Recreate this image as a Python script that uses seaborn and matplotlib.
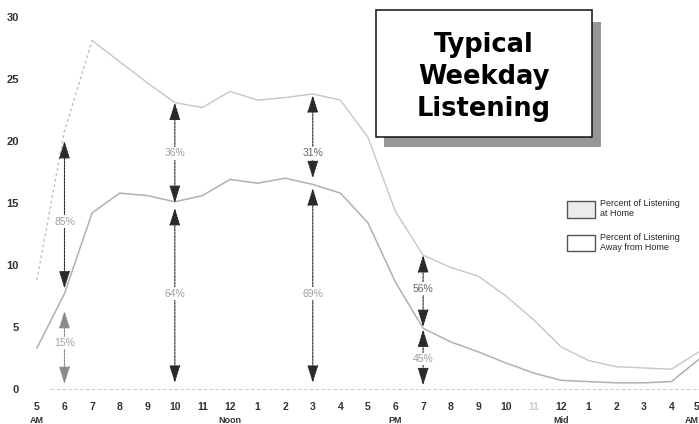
import seaborn as sns
import matplotlib.pyplot as plt
import pandas as pd
from matplotlib.patches import Rectangle, Patch

# Hour of day, 5 AM to 5 AM
hour_labels = ['5', '6', '7', '8', '9', '10', '11', '12', '1', '2', '3', '4',
               '5', '6', '7', '8', '9', '10', '11', '12', '1', '2', '3', '4', '5']
sub_labels = {0: 'AM', 7: 'Noon', 13: 'PM', 19: 'Mid', 24: 'AM'}

# Listening levels
upper_values = [8.8, 20.8, 28.1, 26.4, 24.7, 23.1, 22.7, 24.0, 23.3, 23.5, 23.8, 23.3,
                20.3, 14.3, 10.8, 9.8, 9.1, 7.5, 5.6, 3.4, 2.3, 1.8, 1.7, 1.6, 3.0]
lower_values = [3.3, 7.7, 14.2, 15.8, 15.6, 15.1, 15.6, 16.9, 16.6, 17.0, 16.5, 15.8,
                13.4, 8.6, 4.9, 3.8, 3.0, 2.1, 1.3, 0.7, 0.6, 0.5, 0.5, 0.6, 2.4]

# Share arrows at 6 AM, 10 AM, 3 PM and 7 PM
arrow_hours = [1, 5, 10, 14]
upper_top = [20.0, 23.1, 23.7, 10.8]
upper_bottom = [8.1, 15.0, 17.0, 5.0]
upper_label_y = [13.5, 19.0, 19.0, 8.1]
upper_share = ['85%', '36%', '31%', '56%']
lower_top = [6.3, 14.6, 16.2, 4.8]
lower_bottom = [0.4, 0.5, 0.5, 0.3]
lower_label_y = [3.7, 7.7, 7.7, 2.4]
lower_share = ['15%', '64%', '69%', '45%']

legend_labels = ['Percent of Listening\nat Home', 'Percent of Listening\nAway from Home']

sns.set_style('white')
plt.rcParams['font.family'] = ['Liberation Sans', 'DejaVu Sans']

df = pd.DataFrame({'hour': range(len(hour_labels)),
                   'upper': upper_values, 'lower': lower_values})

fig = plt.figure(figsize=(6.99, 4.24), dpi=100)
W, H = 699, 424
ax = fig.add_axes([30 / W, 30 / H, 669 / W, 389.4 / H])

# early-morning rise of the upper line is dotted in the original
sns.lineplot(data=df.iloc[:3], x='hour', y='upper', ax=ax, color='#c0c0c0', lw=1.0, ls=(0, (2, 2)))
sns.lineplot(data=df.iloc[2:], x='hour', y='upper', ax=ax, color='#c6c6c6', lw=1.0)
sns.lineplot(data=df, x='hour', y='lower', ax=ax, color='#b0b0b0', lw=1.1)

ax.set_xlim(-0.25, 23.99)
ax.set_ylim(-0.4, 31)
ax.axhline(0, xmin=0.03, color='#cfcfcf', ls='--', lw=0.8)

for s in ax.spines.values():
    s.set_visible(False)
ax.set_xlabel('')
ax.set_ylabel('')
ax.set_yticks(range(0, 31, 5))
ax.set_yticklabels([str(v) for v in range(0, 31, 5)], fontsize=8, fontweight='bold', color='#333')
ax.set_xticks(range(len(hour_labels)))
ax.set_xticklabels(hour_labels, fontsize=7.5, fontweight='bold', color='#333')
ax.tick_params(axis='x', length=0, pad=6)
ax.tick_params(axis='y', length=0, pad=8)
for lbl in ax.get_xticklabels():
    lbl.set_clip_on(False)
ax.get_xticklabels()[18].set_color('#cccccc')
ax.get_xticklabels()[-1].set_horizontalalignment('right')

for i, txt in sub_labels.items():
    ax.text(i, -0.067, txt, transform=ax.get_xaxis_transform(),
            ha='right' if i == len(hour_labels) - 1 else 'center', va='center',
            fontsize=6.5, fontweight='bold', color='#333', clip_on=False)


def share_arrow(x, top, bottom, label_y, label, color, text_color):
    ax.annotate('', xy=(x, top), xytext=(x, bottom),
                arrowprops=dict(arrowstyle='<|-|>,head_length=0.9,head_width=0.28',
                                color=color, lw=0.8, ls=(0, (2, 1)),
                                mutation_scale=12, shrinkA=0, shrinkB=0))
    ax.text(x, label_y, label, ha='center', va='center', fontsize=7.5, color=text_color,
            bbox=dict(facecolor='white', edgecolor='none', pad=0.8))


for k, x in enumerate(arrow_hours):
    dark_label = upper_share[k] in ('31%', '56%')
    share_arrow(x, upper_top[k], upper_bottom[k], upper_label_y[k], upper_share[k],
                '#2a2a2a', '#666666' if dark_label else '#a0a0a0')
    share_arrow(x, lower_top[k], lower_bottom[k], lower_label_y[k], lower_share[k],
                '#8a8a8a' if k == 0 else '#2a2a2a', '#a0a0a0')

# Title box with drop shadow
fig.add_artist(Rectangle((384 / W, 1 - 147 / H), 217 / W, 125 / H, transform=fig.transFigure,
                         facecolor='#979797', edgecolor='none'))
fig.add_artist(Rectangle((376 / W, 1 - 137 / H), 216 / W, 127 / H, transform=fig.transFigure,
                         facecolor='white', edgecolor='#111', lw=1.1))
fig.text(484 / W, 1 - 77 / H, 'Typical\nWeekday\nListening', ha='center', va='center',
         fontsize=18.5, fontweight='bold', family='DejaVu Sans', linespacing=1.3, color='black')

handles = [Patch(facecolor='#ececec', edgecolor='#555'), Patch(facecolor='white', edgecolor='#555')]
fig.legend(handles, legend_labels, loc='upper left', bbox_to_anchor=(567 / W, 1 - 199 / H),
           frameon=False, fontsize=6.5, handlelength=3.1, handleheight=2.4,
           handletextpad=0.55, labelspacing=1.6, borderpad=0, borderaxespad=0)

plt.savefig('out.png', dpi=100)
